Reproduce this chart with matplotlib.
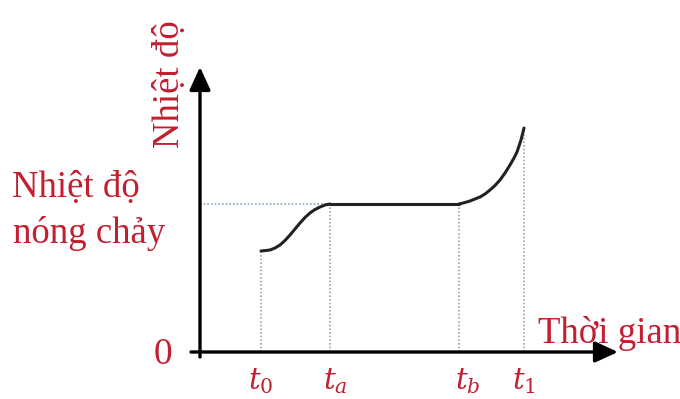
import matplotlib.pyplot as plt

# heating curve of a solid: time (x) vs temperature (y), arbitrary units
tick_names = ['$t_0$', '$t_a$', '$t_b$', '$t_1$']
tick_times = [61, 130, 259, 324]
melt_temp = 148

solid_time = [61, 66, 70, 75, 80, 85, 90, 95, 100, 105, 110, 115, 120, 125, 130]
solid_temp = [101, 101.5, 102, 104, 107, 111.5, 117, 123, 129, 134.5, 139, 142.5, 145, 147, 148]
melt_time = [130, 259]
melt_temps = [148, 148]
liquid_time = [259, 265, 270, 275, 280, 285, 290, 295, 300, 305, 310, 314, 317, 321, 324]
liquid_temp = [148, 149.5, 151, 153, 155, 158, 162, 166.5, 172, 179, 187, 194, 200, 212, 224]

y_label = 'Nhiệt độ'
x_label = 'Thời gian'
melt_label = ['Nhiệt độ', 'nóng chảy']

RED = '#C21F30'
GUIDE = '#8FA9BA'
plt.rcParams['font.family'] = ['Liberation Serif', 'DejaVu Serif']
plt.rcParams['mathtext.fontset'] = 'dejavuserif'

fig = plt.figure(figsize=(6.8, 3.99), dpi=100)
ax = fig.add_axes([0, 0, 1, 1])
ax.set_xlim(-200, 480)
ax.set_ylim(-47, 352)
ax.axis('off')

# guide lines
ax.plot([0, tick_times[1]], [melt_temp, melt_temp], color=GUIDE, lw=1.2,
        ls=(0, (1, 1.2)))
tops = [solid_temp[0], solid_temp[-1], liquid_temp[0], liquid_temp[-1]]
for t, top in zip(tick_times, tops):
    ax.plot([t, t], [0, top], color=GUIDE, lw=1.2, ls=(0, (1, 1.2)))

# curve
for xs, ys in [(solid_time, solid_temp), (melt_time, melt_temps),
               (liquid_time, liquid_temp)]:
    ax.plot(xs, ys, color='#222222', lw=2.2, solid_capstyle='round',
            solid_joinstyle='round')

# axes with arrows
arrow = dict(arrowstyle='-|>,head_length=0.7,head_width=0.32', lw=2.4,
             color='black', mutation_scale=20, shrinkA=0, shrinkB=0)
ax.annotate('', xy=(418, 0), xytext=(-9, 0), arrowprops=arrow)
ax.annotate('', xy=(0, 285), xytext=(0, -5), arrowprops=arrow)

# labels
fs = 26.5
ax.text(-30, 268, y_label, rotation=90, ha='center', va='center',
        fontsize=fs, color=RED)
ax.text(-188, 155, melt_label[0], ha='left', va='baseline', fontsize=fs, color=RED)
ax.text(-187, 109, melt_label[1], ha='left', va='baseline', fontsize=fs, color=RED)
ax.text(-37, -3, '0', ha='center', va='center', fontsize=27, color=RED)
ax.text(338, 9, x_label, ha='left', va='baseline', fontsize=fs, color=RED)
offsets = [0, 5, 9, 0]
for name, t, dx in zip(tick_names, tick_times, offsets):
    ax.text(t + dx, -37, name, ha='center', va='baseline', fontsize=21, color=RED)

fig.savefig('out.png', dpi=100)
